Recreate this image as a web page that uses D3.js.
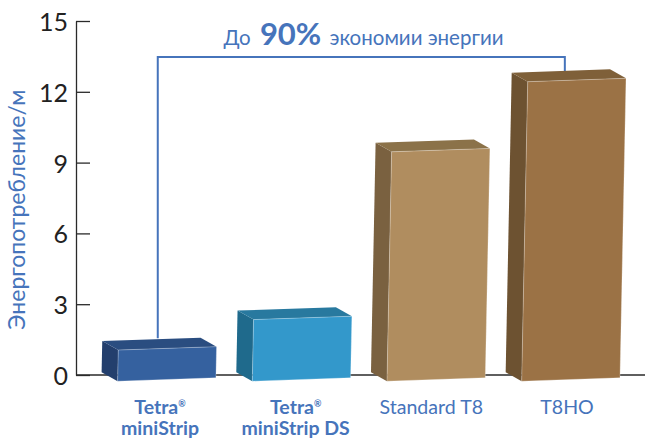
<!DOCTYPE html>
<html>
<head>
<meta charset="utf-8">
<script src="https://cdn.jsdelivr.net/npm/d3@7"></script>
<style>
  html, body { margin: 0; padding: 0; background: #fff; }
  svg { display: block; font-family: Lato, sans-serif; }
</style>
</head>
<body>
<svg width="645" height="440"></svg>
<script>
// values
const categories = ["Tetra miniStrip", "Tetra miniStrip DS", "Standard T8", "T8HO"];
const values = [1.13, 2.42, 9.53, 12.5];
const labelLines = [["Tetra", "miniStrip"], ["Tetra", "miniStrip DS"], ["Standard T8"], ["T8HO"]];
const labelBold = [true, true, false, false];
const tickValues = [0, 3, 6, 9, 12, 15];
const frontColors = ["#35619f", "#3398cb", "#b08d5f", "#9b7245"];
const topColors = ["#2a4d80", "#28799f", "#8b7249", "#7f6039"];
const sideColors = ["#233f6d", "#1f6a8c", "#7a6140", "#6d5231"];

const blue = "#4674bb";
const svg = d3.select("svg");

const y = d3.scaleLinear().domain([0, 15]).range([375, 21]);
const x = d3.scaleBand().domain(categories).range([117.6, 620]).paddingInner(0.27);
const labelX = d3.scalePoint().domain(categories).range([160, 567]);

// fake 3d settings
const depthX = -16, depthY = -9;
const tilt = 3.4;      // front face leans up to the right
const frontDrop = 4.6; // front bottom sits below the baseline
const lean = 0.02;     // top shifted right per px of height

// baseline
svg.append("line")
  .attr("x1", 76).attr("x2", 645)
  .attr("y1", y(0)).attr("y2", y(0))
  .attr("stroke", "#2a2a2a").attr("stroke-width", 1.3);

// axis
const axis = svg.append("g")
  .attr("transform", "translate(76,0)")
  .call(d3.axisLeft(y).tickValues(tickValues).tickSize(-14).tickPadding(8).tickSizeOuter(0));
axis.select(".domain").attr("stroke", "#2a2a2a").attr("stroke-width", 1.3);
axis.selectAll(".tick line").attr("stroke", "#2a2a2a").attr("stroke-width", 1.3);
axis.selectAll(".tick text")
  .attr("fill", "#222")
  .attr("dy", "0.38em")
  .style("font-family", "Lato, sans-serif")
  .style("font-size", "25px");

// bracket over the bars
const bracketTop = 57;
svg.append("path")
  .attr("fill", "none")
  .attr("stroke", blue)
  .attr("stroke-width", 2)
  .attr("d", d3.line()([
    [x(categories[0]) + x.bandwidth() / 2 - 9, y(values[0]) - 10],
    [x(categories[0]) + x.bandwidth() / 2 - 9, bracketTop],
    [x(categories[3]) + x.bandwidth() / 2 - 6, bracketTop],
    [x(categories[3]) + x.bandwidth() / 2 - 6, y(values[3]) - 6]
  ]));

// bars
const bars = svg.append("g").selectAll("g")
  .data(categories)
  .join("g");

bars.each(function (d, i) {
  const g = d3.select(this);
  const w = x.bandwidth();
  const bl = x(d);
  const by = y(0) + frontDrop + 1.6;
  const topMid = y(values[i]);
  const shift = (by - topMid) * lean;
  const fbl = [bl, by];
  const fbr = [bl + w, by - tilt];
  const ftl = [bl + shift, topMid + tilt / 2];
  const ftr = [bl + w + shift, topMid - tilt / 2];
  const btl = [ftl[0] + depthX, ftl[1] + depthY];
  const btr = [ftr[0] + depthX, ftr[1] + depthY];
  const bbl = [fbl[0] + depthX, fbl[1] + depthY];
  const poly = d3.line().curve(d3.curveLinearClosed);

  g.append("path").attr("d", poly([bbl, btl, ftl, fbl]))
    .attr("fill", sideColors[i]);
  g.append("path").attr("d", poly([btl, btr, ftr, ftl]))
    .attr("fill", topColors[i]);
  g.append("path").attr("d", poly([ftl, ftr, fbr, fbl]))
    .attr("fill", frontColors[i])
    .attr("stroke", "#fff").attr("stroke-opacity", 0.35).attr("stroke-width", 0.8);
});

// category labels
categories.forEach((d, i) => {
  labelLines[i].forEach((line, j) => {
    const t = svg.append("text")
      .attr("x", labelX(d))
      .attr("y", 414 + j * 21)
      .attr("text-anchor", "middle")
      .attr("fill", blue)
      .attr("font-size", labelBold[i] ? 19.5 : 19.6)
      .attr("font-weight", labelBold[i] ? 700 : 400)
      .text(line);
    if (labelBold[i] && j === 0) {
      t.append("tspan").attr("font-size", 9).attr("dy", -7).text("®");
    }
  });
});

// y title
svg.append("text")
  .attr("transform", "translate(25,330) rotate(-90)")
  .attr("fill", blue)
  .attr("font-size", 23)
  .text("Энергопотребление/м");

// note above the bracket
const note = svg.append("text")
  .attr("x", 363.5)
  .attr("y", 45)
  .attr("text-anchor", "middle")
  .attr("fill", blue)
  .attr("font-size", 20.5);
note.append("tspan").text("До ");
note.append("tspan").attr("font-size", 31).attr("font-weight", 700).attr("dx", 4).text("90%");
note.append("tspan").attr("dx", 3).text(" экономии энергии");
</script>
</body>
</html>
